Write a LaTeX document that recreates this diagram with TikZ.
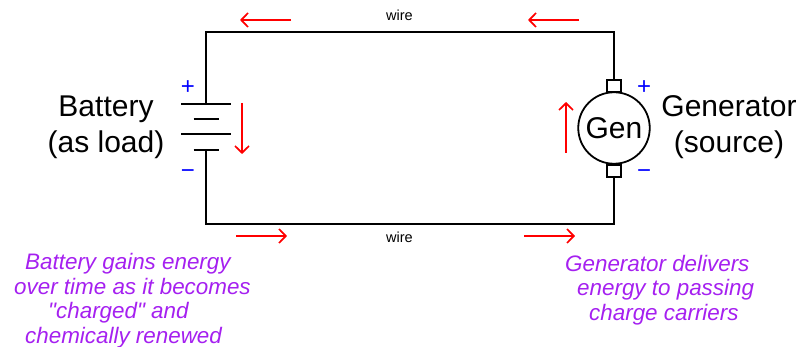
\documentclass[tikz,border=0pt]{standalone}
\usepackage{fontspec}
\newfontfamily\lsans{Liberation Sans}
\usetikzlibrary{arrows.meta}
\definecolor{notepurple}{RGB}{165,32,240}
\pgfdeclarearrow{
  name=VBarb,
  cache=false,
  setup code={\pgfarrowssettipend{0pt}\pgfarrowssetbackend{-7pt}\pgfarrowssetlineend{-1pt}\pgfarrowssetvisualbackend{-7pt}\pgfarrowshullpoint{-7pt}{7pt}\pgfarrowshullpoint{-7pt}{-7pt}\pgfarrowshullpoint{0pt}{0pt}},
  drawing code={\pgfsetdash{}{0pt}\pgfsetmiterjoin\pgfsetbuttcap
    \pgfpathmoveto{\pgfqpoint{-8pt}{7pt}}\pgfpathlineto{\pgfqpoint{-1.2pt}{0pt}}\pgfpathlineto{\pgfqpoint{-8pt}{-7pt}}\pgfusepathqstroke}
}
\tikzset{
 px/.style={x=1pt,y=-1pt},
 wire/.style={draw=black,line width=1.8pt},
 flow/.style={draw=red,line width=1.7pt,-{VBarb}},
 big/.style={font=\lsans\fontsize{30}{36}\selectfont,align=center,inner sep=0pt},
 small/.style={font=\lsans\fontsize{14.5}{17}\selectfont,inner sep=0pt},
 note/.style={font=\lsans\itshape\fontsize{22.4}{24.5}\selectfont,text=notepurple,align=left,inner sep=0pt,anchor=west},
 pol/.style={font=\lsans\fontsize{24}{24}\selectfont,text=blue,inner sep=0pt},
}
\begin{document}
\begin{tikzpicture}[px]
\useasboundingbox (0,0) rectangle (797,347);
\coordinate (tl) at (206,32);
\coordinate (tr) at (614,32);
\coordinate (bl) at (206,224);
\coordinate (br) at (614,224);
\coordinate (battop) at (206,104);
\coordinate (batbot) at (206,150);
\node[circle,draw=black,line width=1.8pt,minimum size=71.5pt,inner sep=0pt,font=\lsans\fontsize{30}{36}\selectfont] (gen) at (614,128) {Gen};
\node[rectangle,draw=black,line width=1.8pt,minimum width=14pt,minimum height=12pt,inner sep=0pt] (brt) at (614,86) {};
\node[rectangle,draw=black,line width=1.8pt,minimum width=14pt,minimum height=12pt,inner sep=0pt] (brb) at (614,171) {};
\draw[wire] (battop) -- (tl) -- (tr) -- (brt.north);
\draw[wire] (batbot) -- (bl) -- (br) -- (brb.south);
\draw[wire] (181,104) -- (231,104);
\draw[wire] (193.5,119) -- (218.5,119);
\draw[wire] (181,134) -- (231,134);
\draw[wire] (193.5,150) -- (218.5,150);
\coordinate (a1s) at (291,20); \coordinate (a1e) at (240,20);
\coordinate (a2s) at (579,20); \coordinate (a2e) at (528,20);
\coordinate (a3s) at (236,236); \coordinate (a3e) at (287,236);
\coordinate (a4s) at (524,236); \coordinate (a4e) at (575,236);
\coordinate (a5s) at (242,103); \coordinate (a5e) at (242,154);
\coordinate (a6s) at (566,153); \coordinate (a6e) at (566,102);
\draw[flow] (a1s) -- (a1e);
\draw[flow] (a2s) -- (a2e);
\draw[flow] (a3s) -- (a3e);
\draw[flow] (a4s) -- (a4e);
\draw[flow] (a5s) -- (a5e);
\draw[flow] (a6s) -- (a6e);
\node[small] (w1) at (399.5,15) {wire};
\node[small] (w2) at (399.5,237) {wire};
\node[big] (bat) at (106,127) {Battery\\(as load)};
\node[big] (gn) at (729,127) {Generator\\(source)};
\node[pol] (p1) at (188,88) {+};
\node[pol] (m1) at (188,174) {−};
\node[pol] (p2) at (644,88) {+};
\node[pol] (m2) at (644,174) {−};
\node[note] (n1) at (14,300.5) {\hspace*{11pt}Battery gains energy\\over time as it becomes\\\hspace*{34pt}"charged" and\\\hspace*{11pt}chemically renewed};
\node[note] (n2) at (565,290) {Generator delivers\\\hspace*{12pt}energy to passing\\\hspace*{24pt}charge carriers};
\end{tikzpicture}
\end{document}
